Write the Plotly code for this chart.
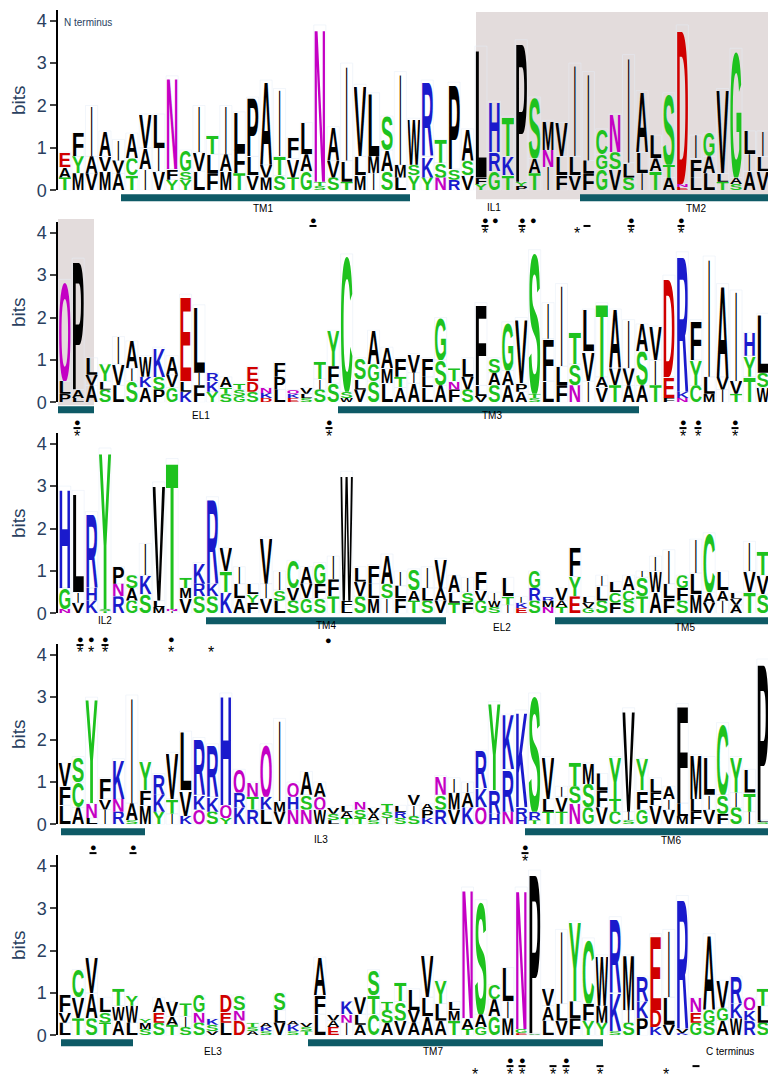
import plotly.graph_objects as go
from urllib.parse import quote

# ---------------- data ----------------
row1_top = "EFIAIAVLNGITILPAIFLNAIVLSIWRTPALHTPSMVIICNIALSDIGVGLIA"
row1_top_h = [0.9,1.35,2.0,1.4,1.2,1.35,1.8,1.8,2.7,0.95, 2.0,1.3,2.0,1.85,2.2,2.6,2.4,1.25,1.6,3.9,
              1.5,3.0,2.5,2.3,1.75,2.8,1.7,2.6,1.2,2.55, 1.45,3.4,2.1,1.75,3.55,2.2,1.65,1.6,3.0,2.8,
              1.45,1.8,3.2,2.35,1.3,2.3,3.9,1.3,1.35,2.4, 3.35,1.4,1.4,1.35]
row1_sub = "AYAVVCAIFSVLAFLVTVATVLLMAMSKSSSFRKYANLLLGSLLATNFALAILV"
row1_sub_h = [0.55,0.8,0.8,0.8,0.7,0.75,1.0,1.0,0.5,0.45, 0.9,0.85,0.85,0.95,0.8,0.6,0.8,0.75,0.85,0.2,
              0.7,0.7,0.8,0.8,0.95,0.6,0.6,0.8,0.65,0.5, 0.7,0.3,0.9,0.8,0.2,0.75,0.95,0.8,0.8,0.7,
              0.85,0.9,0.65,0.9,0.75,0.6,0.15,0.75,0.8,0.4, 0.3,0.85,0.8,0.7]
row1_bot = "TMVMATIVYYLFMTVMSTGSSTMISLYYNRVYGTPTIFVFGVSITAELLTSAVS"
row1_bot_h = [0.3,0.4,0.4,0.45,0.4,0.35,0.5,0.45,0.25,0.25, 0.45,0.4,0.45,0.4,0.35,0.3,0.35,0.3,0.45,0.1,
              0.3,0.2,0.35,0.4,0.45,0.3,0.35,0.3,0.3,0.25, 0.35,0.15,0.45,0.35,0.1,0.4,0.55,0.35,0.35,0.4,
              0.5,0.5,0.3,0.4,0.45,0.3,0.08,0.3,0.4,0.2, 0.15,0.45,0.45,0.35]

row2_top = "QPLYIAWKAELRATENFQVTYCSAAFVFGTLFSGVSIITLTAIAVDRFIAIHLS"
row2_top_h = [2.9,3.4,1.05,0.9,1.55,1.45,1.1,1.3,1.1,2.55, 2.3,0.7,0.6,0.45,0.85,0.35,0.95,0.3,0.35,0.95,
              1.7,3.5,1.05,1.7,1.3,1.05,1.15,1.05,2.0,0.8, 1.05,2.35,1.05,1.9,2.0,3.6,2.35,2.8,1.65,2.2,
              2.35,2.2,1.95,1.85,1.8,3.0,3.55,1.95,3.45,2.8, 2.65,1.65,2.1,0.6]
row2_sub = "LAVLVIKSVLIKTSDKPKLIFSLGMTILSNVLAAPTFLSVAVVSIEKYLVVYSY"
row2_sub_h = [0.5,0.3,0.65,0.5,0.9,0.8,0.6,0.6,0.65,0.5, 0.7,0.5,0.35,0.3,0.5,0.22,0.6,0.2,0.2,0.55,
              0.85,0.25,0.55,0.9,0.8,0.6,0.7,0.6,1.0,0.5, 0.6,0.4,0.7,0.75,0.45,0.2,1.5,0.85,0.9,1.2,
              0.6,0.8,0.8,1.2,1.0,0.6,0.25,1.0,0.6,0.6, 0.5,1.1,0.7,0.3]
row2_bot = "PLASLSAPGKFYSGSDLESSSWVSLAALAFSVSAASLFNIVTAATFNCMITTWT"
row2_bot_h = [0.2,0.1,0.4,0.3,0.4,0.5,0.35,0.3,0.35,0.25, 0.4,0.25,0.2,0.15,0.25,0.1,0.3,0.1,0.1,0.3,
              0.45,0.1,0.3,0.5,0.45,0.35,0.45,0.35,0.4,0.3, 0.3,0.15,0.4,0.4,0.25,0.1,0.5,0.4,0.4,0.5,
              0.35,0.4,0.4,0.4,0.4,0.1,0.1,0.4,0.2,0.3, 0.2,0.6,0.35,0.15]

row3_top = "HLRYPSIVTTKRVILVICAGIWLFAISIVAIFILIGRVFLILAIIIGICLLITI"
row3_top_h = [3.0,2.9,2.4,3.9,1.1,0.9,1.65,3.1,3.65,0.85, 1.2,2.75,1.55,1.1,0.7,1.8,1.0,1.25,1.1,1.2,
              1.35,3.35,1.1,1.15,1.4,1.0,1.05,1.1,1.3,0.9, 0.85,1.0,0.5,0.85,0.4,1.0,0.4,0.6,1.55,0.4,
              0.9,0.75,0.9,1.0,1.35,1.5,0.9,1.75,1.9,1.0, 0.5,1.7,1.45,1.0]
row3_sub = "GIHSNAKLNMRKTLYISVVFFFVLSLALALSVWTKRMAYVLCCSWLFLAAVVVT"
row3_sub_h = [0.6,0.5,0.6,0.1,0.7,0.6,0.9,0.3,0.1,0.6, 0.7,0.7,1.0,0.7,0.45,0.7,0.55,0.6,0.7,0.7,
              0.8,0.3,0.75,0.7,0.7,0.65,0.55,0.6,0.6,0.5, 0.5,0.55,0.3,0.4,0.25,0.6,0.3,0.3,0.87,0.25,
              0.65,0.5,0.55,0.85,1.0,0.7,0.6,0.95,0.5,0.55, 0.35,1.0,0.9,0.7]
row3_bot = "NVKTRGSMIVSSKAFVLSGSTLSMIFTSVTFGSIESNTEGSFSTAFSMVIATSL"
row3_bot_h = [0.1,0.25,0.3,0.05,0.4,0.3,0.45,0.15,0.05,0.35, 0.4,0.4,0.5,0.35,0.25,0.35,0.3,0.3,0.35,0.35,
              0.4,0.15,0.4,0.35,0.35,0.35,0.3,0.3,0.3,0.25, 0.25,0.3,0.15,0.2,0.12,0.3,0.15,0.15,0.4,0.12,
              0.3,0.25,0.3,0.4,0.5,0.35,0.3,0.45,0.25,0.3, 0.2,0.5,0.45,0.35]

row4_top = "VSYFKIYRVLRRHQNQIQAAVLNVTLVANIIRYKKSVITMLYVYLAFMLCYLPF"
row4_top_h = [1.45,1.6,3.0,1.1,1.55,3.05,1.5,1.2,1.7,2.2, 2.05,1.9,3.1,1.3,1.0,1.9,2.5,1.0,1.25,1.0,
              0.4,0.45,0.55,0.4,0.5,0.45,0.7,0.5,1.15,1.1, 1.0,1.75,2.9,2.6,2.7,3.1,1.6,0.9,1.45,1.45,
              1.2,1.6,2.75,1.55,1.1,0.9,2.85,1.65,1.6,2.4, 1.6,1.3,3.9,1.4]
row4_sub = "FCNVNAFKTVKKQRTKMHSQSASASRIPSMAKRRRRLVSSFTIFFILLISITLY"
row4_sub_h = [0.9,1.0,0.5,0.6,0.6,0.5,0.8,0.7,0.6,0.8, 0.7,0.65,0.45,0.75,0.65,0.65,0.55,0.65,0.7,0.65,
              0.25,0.3,0.35,0.25,0.3,0.3,0.45,0.35,0.7,0.75, 0.75,0.85,0.8,1.3,0.4,0.3,0.6,0.65,0.9,0.95,
              0.8,0.6,0.3,0.8,0.75,0.6,0.5,0.6,0.7,0.7, 0.75,0.75,0.1,0.75]
row4_bot = "LALIRSMYIKQSYKRLVNNWLTTSISSKRVKQHNHTTTNGVCSGVVMFVFSISC"
row4_bot_h = [0.45,0.4,0.15,0.35,0.3,0.1,0.45,0.3,0.25,0.2, 0.35,0.3,0.15,0.4,0.35,0.35,0.3,0.35,0.35,0.35,
              0.1,0.15,0.15,0.1,0.15,0.15,0.2,0.15,0.35,0.35, 0.4,0.4,0.25,0.3,0.15,0.1,0.3,0.3,0.5,0.4,
              0.4,0.3,0.1,0.35,0.45,0.35,0.2,0.3,0.35,0.25, 0.4,0.3,0.05,0.4]

row5_top = "FCVLTYYAVTGKDSTASAVAVKVSTTLVYLNSCLNPVIYCWRMREIRNAVRQTL"
row5_top_h = [0.95,1.55,1.85,0.9,1.1,0.95,0.4,0.9,0.8,0.75, 0.95,0.4,0.95,0.95,0.3,0.3,1.0,0.35,0.3,1.85,
              0.5,0.8,0.9,1.55,0.8,1.25,1.1,1.9,1.3,0.8, 3.5,3.2,1.2,1.6,3.5,3.9,1.1,2.5,2.7,2.3,
              1.9,2.8,1.9,1.4,2.4,2.5,3.3,0.9,2.4,1.3, 1.4,0.9,1.1,2.2]
row5_sub = "VVASWWMEAINSENSKLKSFANLTSSVLLMAAAIGSALLFMKIKDLVEGGKKLV"
row5_sub_h = [0.55,0.9,1.0,0.55,0.7,0.7,0.3,0.55,0.45,0.45, 0.55,0.25,0.55,0.6,0.2,0.2,0.6,0.25,0.2,0.95,
              0.35,0.5,0.5,0.95,0.6,0.8,0.6,0.9,0.75,0.6, 0.4,0.5,0.85,0.8,0.15,0.05,0.7,0.75,0.8,0.75,
              0.7,1.0,0.6,0.8,0.6,0.9,0.15,0.55,0.6,0.65, 0.75,0.6,0.7,0.7]
row5_bot = "LTSTALSSTSSVLDASVSTLEIACAVAAATTGGMEALVFYYSSPKVKGSAWRSA"
row5_bot_h = [0.3,0.4,0.4,0.3,0.35,0.3,0.15,0.3,0.25,0.2, 0.3,0.1,0.3,0.35,0.1,0.1,0.3,0.1,0.1,0.5,
              0.2,0.3,0.25,0.5,0.3,0.35,0.3,0.45,0.35,0.35, 0.15,0.2,0.45,0.4,0.05,0.02,0.35,0.35,0.4,0.35,
              0.3,0.1,0.3,0.4,0.2,0.25,0.05,0.3,0.3,0.35, 0.4,0.35,0.3,0.3]

rows = [
    (row1_top, row1_top_h, row1_sub, row1_sub_h, row1_bot, row1_bot_h),
    (row2_top, row2_top_h, row2_sub, row2_sub_h, row2_bot, row2_bot_h),
    (row3_top, row3_top_h, row3_sub, row3_sub_h, row3_bot, row3_bot_h),
    (row4_top, row4_top_h, row4_sub, row4_sub_h, row4_bot, row4_bot_h),
    (row5_top, row5_top_h, row5_sub, row5_sub_h, row5_bot, row5_bot_h),
]

regions = [
    (0, 113, 402, "TM1", 255, 202), (0, 572, 775, "TM2", 688, 202), (0, None, None, "IL1", 486, 201),
    (1, 50, 86, None, 0, 0), (1, None, None, "EL1", 193, 411), (1, 330, 631, "TM3", 484, 411),
    (2, None, None, "IL2", 97, 618), (2, 198, 438, "TM4", 318, 623), (2, None, None, "EL2", 494, 625),
    (2, 547, 775, "TM5", 677, 625),
    (3, 53, 137, None, 0, 0), (3, None, None, "IL3", 313, 839), (3, 517, 775, "TM6", 663, 840),
    (4, 53, 125, None, 0, 0), (4, None, None, "EL3", 205, 1053), (4, 300, 595, "TM7", 425, 1053),
    (4, None, None, "C terminus", 722, 1053),
]
shaded = [(468, 775, 4, 193), (50, 86, 213, 401)]
marks = [
    (477, 213, "d-*"), (487, 213, "d"), (514, 213, "d-*"), (525, 213, "d"), (569, 213, "*"),
    (579, 213, "-"), (623, 213, "d-*"), (673, 213, "d-*"), (305, 213, "d-"),
    (69, 417, "d-*"), (321, 417, "d-*"), (675, 417, "d-*"), (690, 417, "d-*"), (727, 417, "d-*"),
    (72, 636, "d-*"), (83, 636, "d*"), (97, 636, "d-*"), (163, 636, "d*"), (203, 636, "*"), (320, 637, "d"),
    (85, 846, "d-"), (125, 846, "d-"), (517, 846, "d-*"),
    (502, 1061, "d-*"), (514, 1061, "d-*"), (545, 1061, "-*"), (558, 1061, "d-*"), (592, 1061, "-*"),
    (467, 1061, "*"), (658, 1061, "*"), (688, 1061, "-"),
]

# ---------------- styling ----------------
W, H = 776, 1081
ZERO = [184, 398, 611, 824, 1037]
PXBIT = 42.8
YMAX = 4.25
XL, XR = 50, 775
GREEN, BLUE, RED, MAG, BLK = "#1ec21e", "#1a1acc", "#d00000", "#c400c4", "#000000"
COLOR = {}
for c in "GSTYC": COLOR[c] = GREEN
for c in "KRH": COLOR[c] = BLUE
for c in "DE": COLOR[c] = RED
for c in "NQ": COLOR[c] = MAG
for c in "AVLIPWFM": COLOR[c] = BLK

def glyph(letter):
    col = COLOR.get(letter, BLK)
    if letter == "I":
        txt = (f'<text x="29" y="100" textLength="12" lengthAdjust="spacingAndGlyphs" '
               f'font-family="Liberation Sans, Arial, sans-serif" font-weight="bold" font-size="100" fill="{col}">I</text>')
    else:
        txt = (f'<text x="0" y="100" textLength="70" lengthAdjust="spacingAndGlyphs" '
               f'font-family="Liberation Sans, Arial, sans-serif" font-weight="bold" font-size="100" fill="{col}">{letter}</text>')
    svg = (f'<svg xmlns="http://www.w3.org/2000/svg" width="70" height="72" viewBox="0 28.3 70 71.7" '
           f'preserveAspectRatio="none">{txt}</svg>')
    return "data:image/svg+xml;charset=utf-8," + quote(svg)

GLYPHS = {}
def g(letter):
    if letter not in GLYPHS:
        GLYPHS[letter] = glyph(letter)
    return GLYPHS[letter]

fig = go.Figure()
images, shapes, annotations = [], [], []

for r, (top, toph, sub, subh, bot, both) in enumerate(rows):
    n = len(top)
    ax = "" if r == 0 else str(r + 1)
    xref, yref = "x" + ax, "y" + ax
    z = ZERO[r]
    dom_bot = max(0.0, 1 - z / H)
    dom_top = min(1.0, 1 - (z - YMAX * PXBIT) / H)
    fig.update_layout(**{
        "xaxis" + ax: dict(domain=[XL / W, XR / W], range=[-0.5, n - 0.5], visible=False,
                           anchor=yref, fixedrange=True),
        "yaxis" + ax: dict(domain=[dom_bot, dom_top], range=[0, YMAX], anchor=xref,
                           tickvals=[0, 1, 2, 3, 4], ticks="outside", ticklen=6, tickwidth=1.5,
                           showline=True, linewidth=1.5, linecolor="black", showgrid=False,
                           zeroline=False, tickfont=dict(size=18, family="Liberation Sans, Arial"),
                           title=dict(text="bits", font=dict(size=19, family="Liberation Sans, Arial"),
                                      standoff=6), fixedrange=True),
    })
    xs = list(range(n))
    fig.add_trace(go.Bar(x=xs, y=both, xaxis=xref, yaxis=yref, marker_color="rgba(0,0,0,0)",
                         hovertext=list(bot), showlegend=False, width=0.9))
    fig.add_trace(go.Bar(x=xs, y=[s - b for s, b in zip(subh, both)], base=both, xaxis=xref, yaxis=yref,
                         marker_color="rgba(0,0,0,0)", hovertext=list(sub), showlegend=False, width=0.9))
    fig.add_trace(go.Bar(x=xs, y=[t - s for t, s in zip(toph, subh)], base=subh, xaxis=xref, yaxis=yref,
                         marker_color="rgba(0,0,0,0)", hovertext=list(top), showlegend=False, width=0.9))
    for i in range(n):
        for letter, lo, hi in ((bot[i], 0, both[i]), (sub[i], both[i], subh[i]), (top[i], subh[i], toph[i])):
            if hi - lo <= 0:
                continue
            images.append(dict(source=g(letter), xref=xref, yref=yref, x=i - 0.47, y=hi,
                               sizex=0.94, sizey=hi - lo, xanchor="left", yanchor="top",
                               sizing="stretch", layer="above"))
fig.update_layout(barmode="overlay")

def px(x): return x / W
def py(y): return 1 - y / H

for (x0, x1, y0, y1) in shaded:
    shapes.append(dict(type="rect", xref="paper", yref="paper", x0=px(x0), x1=px(x1), y0=py(y1), y1=py(y0),
                       fillcolor="#e3dcdc", line=dict(width=0), layer="below"))

LABFONT = dict(size=10, family="Liberation Sans Narrow, Liberation Sans, Arial", color="black")
for (r, x0, x1, lab, lx, ly) in regions:
    z = ZERO[r]
    if x0 is not None:
        shapes.append(dict(type="rect", xref="paper", yref="paper", x0=px(x0), x1=px(x1),
                           y0=py(z + 11), y1=py(z + 4), fillcolor="#0e5a66", line=dict(width=0)))
    if lab:
        annotations.append(dict(text=lab, xref="paper", yref="paper", x=px(lx), y=py(ly),
                                showarrow=False, font=LABFONT, xanchor="center", yanchor="middle"))

annotations.append(dict(text="N terminus", xref="paper", yref="paper", x=px(54), y=py(15),
                        showarrow=False, font=dict(size=10, family="Liberation Sans Narrow, Liberation Sans"),
                        xanchor="left", yanchor="middle"))

for (x, yd, kinds) in marks:
    if "d" in kinds:
        annotations.append(dict(text="●", xref="paper", yref="paper", x=px(x), y=py(yd), showarrow=False,
                                font=dict(size=11, color="black"), xanchor="center", yanchor="middle"))
    if "-" in kinds:
        shapes.append(dict(type="line", xref="paper", yref="paper", x0=px(x - 3.5), x1=px(x + 3.5),
                           y0=py(yd + 7), y1=py(yd + 7), line=dict(color="black", width=2)))
    if "*" in kinds:
        annotations.append(dict(text="*", xref="paper", yref="paper", x=px(x), y=py(yd + 15), showarrow=False,
                                font=dict(size=16, color="black", family="Liberation Sans"),
                                xanchor="center", yanchor="middle"))

fig.update_layout(width=W, height=H, margin=dict(l=0, r=0, t=0, b=0), plot_bgcolor="rgba(0,0,0,0)",
                  paper_bgcolor="white", images=images, shapes=shapes, annotations=annotations,
                  showlegend=False)
fig.write_html("out.html", config={"displayModeBar": False})
